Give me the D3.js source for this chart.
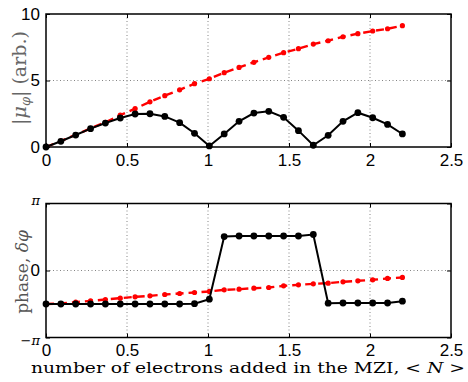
<!DOCTYPE html>
<html>
<head>
<meta charset="utf-8">
<script src="https://cdn.jsdelivr.net/npm/d3@7"></script>
<style>
html,body{margin:0;padding:0;background:#fff;}
svg{display:block;}
</style>
</head>
<body>
<svg id="chart" width="468" height="382"></svg>
<script>
// ---- data ----
const electronsN = [0, 0.0917, 0.1833, 0.275, 0.3667, 0.4583, 0.55, 0.6417, 0.7333, 0.825, 0.9167, 1.0083,
  1.1, 1.1917, 1.2833, 1.375, 1.4667, 1.5583, 1.65, 1.7417, 1.8333, 1.925, 2.0167, 2.1083, 2.2];
const magnitudeMeasured = [0, 0.43, 0.9, 1.38, 1.8, 2.18, 2.48, 2.5, 2.3, 1.83, 1.03, 0.08,
  0.98, 1.93, 2.55, 2.68, 2.23, 1.23, 0.13, 0.88, 1.93, 2.58, 2.2, 1.7, 0.98];
const magnitudeModel = [0, 0.45, 0.92, 1.4, 1.86, 2.4, 2.88, 3.4, 3.86, 4.3, 4.76, 5.13,
  5.59, 5.98, 6.37, 6.74, 7.09, 7.39, 7.74, 7.99, 8.29, 8.52, 8.72, 8.89, 9.12];
// phase values in units of pi
const phaseMeasured = [-0.5, -0.5, -0.5, -0.5, -0.5, -0.5, -0.5, -0.5, -0.5, -0.5, -0.495, -0.428,
  0.507, 0.515, 0.515, 0.515, 0.515, 0.515, 0.537, -0.488, -0.485, -0.485, -0.485, -0.485, -0.458];
const phaseModel = [-0.5, -0.493, -0.473, -0.453, -0.433, -0.413, -0.393, -0.378, -0.358, -0.343, -0.328, -0.313,
  -0.289, -0.279, -0.264, -0.254, -0.229, -0.214, -0.199, -0.189, -0.169, -0.154, -0.139, -0.119, -0.104];
const xTicks = [0, 0.5, 1, 1.5, 2, 2.5];
const xTickLabels = ["0", "0.5", "1", "1.5", "2", "2.5"];
const yTicksTop = [0, 5, 10];
const yTickLabelsTop = ["0", "5", "10"];
const yTicksBottom = [-1, 0, 1];
const yTickLabelsBottom = ["\u2212\u03C0", "0", "\u03C0"];

// ---- layout ----
const svg = d3.select("#chart");
const left = 46, right = 451;
const topPanel = {y0: 14, y1: 147};
const botPanel = {y0: 203.5, y1: 337.5};
const sansFont = "'Liberation Sans', Arial, sans-serif";
const serifFont = "'DejaVu Serif', 'Liberation Serif', serif";
const tickSize = 17;

const x = d3.scaleLinear().domain([0, 2.5]).range([left, right]);
const yTop = d3.scaleLinear().domain([0, 10]).range([topPanel.y1, topPanel.y0]);
const yBot = d3.scaleLinear().domain([-1, 1]).range([botPanel.y1, botPanel.y0]);

function panel(y, p, yTicks, yLabels, seriesA, seriesB, gridY, isPhase) {
  const g = svg.append("g");
  // grid
  g.selectAll(".gx").data(xTicks.filter(d => d > 0 && d < 2.5)).join("line")
    .attr("x1", d => x(d)).attr("x2", d => x(d))
    .attr("y1", p.y0).attr("y2", p.y1)
    .attr("stroke", "#666").attr("stroke-width", 0.8).attr("stroke-dasharray", "1,2.5");
  g.selectAll(".gy").data(gridY).join("line")
    .attr("x1", left).attr("x2", right)
    .attr("y1", d => y(d)).attr("y2", d => y(d))
    .attr("stroke", "#666").attr("stroke-width", 0.8).attr("stroke-dasharray", "1,2.5");

  // axes via d3 axis
  const xAxis = d3.axisBottom(x).tickValues(xTicks).tickFormat((d, i) => xTickLabels[i]).tickSize(-4).tickPadding(7);
  const xa = g.append("g").attr("transform", `translate(0,${p.y1})`).call(xAxis);
  const xAxisTop = d3.axisTop(x).tickValues(xTicks).tickFormat("").tickSize(-4);
  const xat = g.append("g").attr("transform", `translate(0,${p.y0})`).call(xAxisTop);
  const yAxis = d3.axisLeft(y).tickValues(yTicks).tickFormat((d, i) => yLabels[i]).tickSize(-4).tickPadding(6);
  const ya = g.append("g").attr("transform", `translate(${left},0)`).call(yAxis);
  const yAxisR = d3.axisRight(y).tickValues(yTicks).tickFormat("").tickSize(-4);
  const yar = g.append("g").attr("transform", `translate(${right},0)`).call(yAxisR);
  [xa, xat, ya, yar].forEach(a => {
    a.attr("font-size", null).attr("font-family", null);
    a.select(".domain").remove();
    a.selectAll(".tick line").attr("stroke", "#000").attr("stroke-width", 1);
  });
  xa.selectAll(".tick text").style("font-family", sansFont).style("font-size", tickSize + "px").attr("fill", "#000")
    .attr("dy", "0.68em");
  ya.selectAll(".tick text").attr("fill", "#000")
    .style("font-family", (d, i) => (isPhase && i !== 1 ? serifFont : sansFont))
    .style("font-style", (d, i) => (isPhase && i !== 1 ? "italic" : "normal"))
    .style("font-size", (d, i) => (isPhase && i !== 1 ? "13px" : tickSize + "px"));
  if (isPhase) {
    ya.selectAll(".tick text").filter((d, i) => i === 2).attr("dy", "0.1em");
    ya.selectAll(".tick text").filter((d, i) => i === 0).attr("dy", "0.5em");
  }

  // frame
  g.append("rect").attr("x", left).attr("y", p.y0).attr("width", right - left).attr("height", p.y1 - p.y0)
    .attr("fill", "none").attr("stroke", "#000").attr("stroke-width", 1.5);

  // red model dashed
  const lineGen = d3.line().x((d, i) => x(electronsN[i])).y(d => y(d));
  g.append("path").datum(seriesB).attr("d", lineGen)
    .attr("fill", "none").attr("stroke", "#f00").attr("stroke-width", 2.4).attr("stroke-dasharray", "8,5");
  g.selectAll(".mb").data(seriesB).join("circle")
    .attr("cx", (d, i) => x(electronsN[i])).attr("cy", d => y(d)).attr("r", 2.6).attr("fill", "#f00");

  // black measured
  g.append("path").datum(seriesA).attr("d", lineGen)
    .attr("fill", "none").attr("stroke", "#000").attr("stroke-width", 2);
  g.selectAll(".ma").data(seriesA).join("circle")
    .attr("cx", (d, i) => x(electronsN[i])).attr("cy", d => y(d)).attr("r", 3.4).attr("fill", "#000");
  return g;
}

panel(yTop, topPanel, yTicksTop, yTickLabelsTop, magnitudeMeasured, magnitudeModel, [5], false);
panel(yBot, botPanel, yTicksBottom, yTickLabelsBottom, phaseMeasured, phaseModel, [0], true);

// ---- axis labels ----
const topLabel = svg.append("text")
  .attr("transform", `translate(26,78) rotate(-90)`)
  .attr("text-anchor", "middle").style("font-family", serifFont).style("font-size", "19px").attr("fill", "#666");
topLabel.append("tspan").text("|");
topLabel.append("tspan").attr("font-style", "italic").text("\u03BC");
topLabel.append("tspan").attr("font-style", "italic").style("font-size", "13px").attr("dy", 4).text("\u03C6");
topLabel.append("tspan").attr("dy", -4).text("| (arb.)");

const botLabel = svg.append("text")
  .attr("transform", `translate(28,272) rotate(-90)`)
  .attr("text-anchor", "middle").style("font-family", serifFont).style("font-size", "17px").attr("fill", "#555");
botLabel.append("tspan").text("phase, ");
botLabel.append("tspan").attr("font-style", "italic").text("\u03B4\u03C6");

const xLabel = svg.append("text")
  .attr("x", 248).attr("y", 373)
  .attr("text-anchor", "middle").style("font-family", serifFont).style("font-size", "15px").attr("fill", "#000")
  .attr("textLength", 434).attr("lengthAdjust", "spacingAndGlyphs");
xLabel.append("tspan").text("number of electrons added in the MZI, < ");
xLabel.append("tspan").attr("font-style", "italic").text("N");
xLabel.append("tspan").text(" >");
</script>
</body>
</html>
